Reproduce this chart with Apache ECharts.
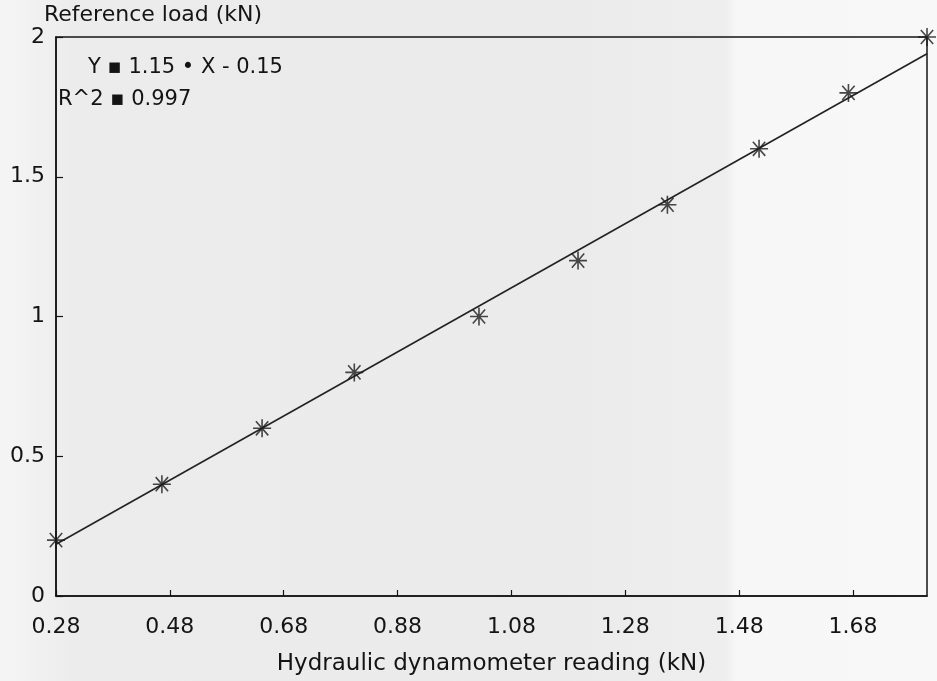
<!DOCTYPE html>
<html>
<head>
<meta charset="utf-8">
<script src="https://cdn.jsdelivr.net/npm/echarts@6/dist/echarts.min.js"></script>
<style>
html,body{margin:0;padding:0;background:#f2f2f2;}
#chart{width:937px;height:681px;}
</style>
</head>
<body>
<div id="chart"></div>
<script>
// Data
const xReadings = [0.28, 0.466, 0.642, 0.804, 1.023, 1.197, 1.354, 1.515, 1.672, 1.81];
const loads     = [0.2, 0.4, 0.6, 0.8, 1.0, 1.2, 1.4, 1.6, 1.8, 2.0];
const fitX = [0.28, 1.81];
const fitY = [0.185, 1.94];
const xTickLabels = ['0.28', '0.48', '0.68', '0.88', '1.08', '1.28', '1.48', '1.68'];
const yTickLabels = ['0', '0.5', '1', '1.5', '2'];
const equationText = 'Y \u25AA 1.15 \u2022 X - 0.15';
const r2Text = 'R^2 \u25AA 0.997';
const xTitle = 'Hydraulic dynamometer reading (kN)';
const yTitle = 'Reference load (kN)';

const X0 = 0.28; // axis origin (shifted so ticks fall on 0.28, 0.48, ...)
const XMAX = 1.81;
const shift = v => +(v - X0).toFixed(4);

const font = 'DejaVu Sans';
const ink = '#141414';

const chart = echarts.init(document.getElementById('chart'));
chart.setOption({
  animation: false,
  backgroundColor: {
    type: 'linear', x: 0, y: 0, x2: 1, y2: 0,
    colorStops: [
      {offset: 0, color: '#f5f5f5'},
      {offset: 0.08, color: '#ececec'},
      {offset: 0.6, color: '#ebebeb'},
      {offset: 0.775, color: '#eeeeee'},
      {offset: 0.785, color: '#f7f7f7'},
      {offset: 1, color: '#f8f8f8'}
    ]
  },
  textStyle: {fontFamily: font},
  grid: {left: 56, right: 10, top: 37, bottom: 84, show: true, borderColor: ink, borderWidth: 1.5, backgroundColor: 'transparent'},
  xAxis: {
    type: 'value', min: 0, max: shift(XMAX), interval: 0.2,
    axisLine: {show: true, lineStyle: {color: ink, width: 1.5}},
    axisTick: {show: true, inside: true, length: 6, lineStyle: {color: ink, width: 1.2}},
    splitLine: {show: false},
    axisLabel: {
      color: ink, fontSize: 22, fontFamily: font, margin: 20, showMaxLabel: false,
      formatter: v => { const i = Math.round(v / 0.2); return (Math.abs(v - i*0.2) < 1e-6 && i < xTickLabels.length) ? xTickLabels[i] : ''; }
    },
    name: xTitle, nameLocation: 'middle', nameGap: 57,
    nameTextStyle: {color: ink, fontSize: 23, fontFamily: font}
  },
  yAxis: {
    type: 'value', min: 0, max: 2, interval: 0.5,
    axisLine: {show: true, lineStyle: {color: ink, width: 1.5}},
    axisTick: {show: true, inside: true, length: 7, lineStyle: {color: ink, width: 1.2}},
    splitLine: {show: false},
    axisLabel: {
      color: ink, fontSize: 22, fontFamily: font, margin: 11,
      formatter: v => yTickLabels[Math.round(v / 0.5)]
    },
    name: yTitle, nameLocation: 'end', nameGap: 7,
    nameTextStyle: {color: ink, fontSize: 22, fontFamily: font, align: 'left', verticalAlign: 'middle', padding: [0, 0, 0, -12]}
  },
  series: [
    {
      type: 'line',
      data: fitX.map((x, i) => [shift(x), fitY[i]]),
      showSymbol: false,
      lineStyle: {color: '#222', width: 1.6},
      z: 2
    },
    {
      type: 'scatter',
      data: xReadings.map((x, i) => [shift(x), loads[i]]),
      symbol: 'path://M0,8L16,8M8,1L8,15M2.5,2.5L13.5,13.5M13.5,2.5L2.5,13.5',
      symbolSize: 18,
      itemStyle: {color: 'rgba(0,0,0,0)', borderColor: '#1a1a1a', borderWidth: 1.6},
      z: 3
    }
  ],
  graphic: [
    {type: 'text', left: 88, top: 57, style: {text: equationText, fill: ink, font: '21px "DejaVu Sans"'}},
    {type: 'text', left: 58, top: 89, style: {text: r2Text, fill: ink, font: '21px "DejaVu Sans"'}}
  ]
});
</script>
</body>
</html>
